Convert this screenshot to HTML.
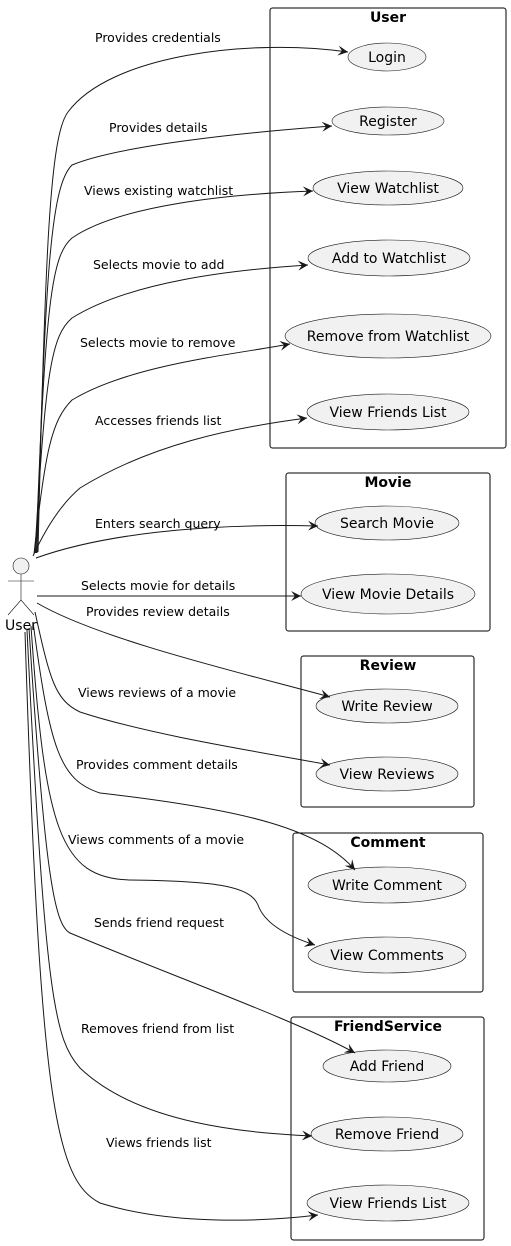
<!DOCTYPE html>
<html><head><meta charset="utf-8"><style>
html,body{margin:0;padding:0;background:#fff;}
svg{display:block;}
text{font-family:"DejaVu Sans","Liberation Sans",sans-serif;}
.l{font-size:12.5px;fill:#000;}
.u{font-size:14px;fill:#000;text-anchor:middle;}
.t{font-size:14px;font-weight:bold;text-anchor:middle;}
.e{fill:#f1f1f1;stroke:#181818;stroke-width:0.6;}
.b{fill:none;stroke:#000;stroke-width:1;}
.p{fill:none;stroke:#181818;stroke-width:1;marker-end:url(#a);}
</style></head><body>
<svg width="511" height="1246" viewBox="0 0 511 1246" xmlns="http://www.w3.org/2000/svg">
<defs><marker id="a" markerWidth="12" markerHeight="10" refX="10" refY="5" orient="auto" markerUnits="userSpaceOnUse"><path d="M0,0 L10,5 L0,10 L4,5 Z" fill="#181818"/></marker></defs>

<rect class="b" x="270" y="8" width="236" height="440" rx="2.5"/>
<text class="t" x="388" y="22">User</text>
<rect class="b" x="286" y="473" width="204" height="158" rx="2.5"/>
<text class="t" x="388" y="487">Movie</text>
<rect class="b" x="301" y="656" width="173" height="151" rx="2.5"/>
<text class="t" x="388" y="670">Review</text>
<rect class="b" x="293" y="833" width="190" height="159" rx="2.5"/>
<text class="t" x="388" y="847">Comment</text>
<rect class="b" x="291" y="1017" width="193" height="223" rx="2.5"/>
<text class="t" x="388" y="1031">FriendService</text>

<ellipse class="e" cx="387" cy="57" rx="39" ry="14"/><text class="u" x="387" y="62">Login</text>
<ellipse class="e" cx="388" cy="121" rx="56" ry="14"/><text class="u" x="388" y="126">Register</text>
<ellipse class="e" cx="388" cy="188" rx="75" ry="17"/><text class="u" x="388" y="193">View Watchlist</text>
<ellipse class="e" cx="389" cy="258" rx="81" ry="18"/><text class="u" x="389" y="263">Add to Watchlist</text>
<ellipse class="e" cx="388" cy="336" rx="103" ry="22"/><text class="u" x="388" y="341">Remove from Watchlist</text>
<ellipse class="e" cx="388" cy="412" rx="81" ry="18"/><text class="u" x="388" y="417">View Friends List</text>
<ellipse class="e" cx="387" cy="523" rx="72" ry="17"/><text class="u" x="387" y="528">Search Movie</text>
<ellipse class="e" cx="388" cy="594" rx="87" ry="20"/><text class="u" x="388" y="599">View Movie Details</text>
<ellipse class="e" cx="387" cy="706" rx="71" ry="17"/><text class="u" x="387" y="711">Write Review</text>
<ellipse class="e" cx="387" cy="774" rx="71" ry="17"/><text class="u" x="387" y="779">View Reviews</text>
<ellipse class="e" cx="387" cy="885" rx="79" ry="18"/><text class="u" x="387" y="890">Write Comment</text>
<ellipse class="e" cx="387" cy="955" rx="79" ry="18"/><text class="u" x="387" y="960">View Comments</text>
<ellipse class="e" cx="387" cy="1066" rx="64" ry="16"/><text class="u" x="387" y="1071">Add Friend</text>
<ellipse class="e" cx="387" cy="1134" rx="76" ry="17"/><text class="u" x="387" y="1139">Remove Friend</text>
<ellipse class="e" cx="388" cy="1203" rx="81" ry="18"/><text class="u" x="388" y="1208">View Friends List</text>

<!-- actor -->
<circle cx="21" cy="566" r="8" fill="#f1f1f1" stroke="#181818" stroke-width="0.6"/>
<path d="M21,574 L21,600 M8,581 L34,581 M8,615 L21,600 L34,615" fill="none" stroke="#181818" stroke-width="0.6"/>
<text class="u" x="21" y="630">User</text>

<!-- edges -->
<path class="p" d="M38,552 C45,250 50,135 68,112 C110,55 250,38 348,52"/>
<path class="p" d="M37,553 C45,260 52,185 72,165 C120,145 250,132 332,126"/>
<path class="p" d="M36,553 C45,300 52,255 72,238 C120,205 230,194 313,191"/>
<path class="p" d="M35,553 C45,370 52,335 72,318 C130,282 230,270 308,265"/>
<path class="p" d="M34,554 C45,450 52,420 72,400 C130,365 230,355 290,344"/>
<path class="p" d="M33,556 C45,530 60,505 80,488 C150,445 230,428 307,418"/>
<path class="p" d="M36,558 C100,535 200,523 318,526"/>
<path class="p" d="M37,596 L301,596"/>
<path class="p" d="M37,603 C100,640 250,675 330,697"/>
<path class="p" d="M35,612 C50,680 55,700 80,712 C150,735 260,752 330,765"/>
<path class="p" d="M33,622 C50,750 60,780 100,793 C250,810 320,830 355,870"/>
<path class="p" d="M31,626 C45,830 60,878 130,880 C210,881 250,885 258,905 C265,925 290,937 315,945"/>
<path class="p" d="M29,628 C45,880 55,925 70,933 C170,975 300,1022 355,1053"/>
<path class="p" d="M27,630 C45,1000 55,1040 80,1068 C140,1125 250,1133 312,1136"/>
<path class="p" d="M25,632 C40,1100 55,1180 100,1203 C170,1225 260,1222 318,1215"/>

<!-- labels -->
<text class="l" x="95" y="42">Provides credentials</text>
<text class="l" x="109" y="132">Provides details</text>
<text class="l" x="84" y="195">Views existing watchlist</text>
<text class="l" x="93" y="269">Selects movie to add</text>
<text class="l" x="80" y="347">Selects movie to remove</text>
<text class="l" x="95" y="425">Accesses friends list</text>
<text class="l" x="95" y="528">Enters search query</text>
<text class="l" x="81" y="590">Selects movie for details</text>
<text class="l" x="86" y="616">Provides review details</text>
<text class="l" x="78" y="697">Views reviews of a movie</text>
<text class="l" x="76" y="769">Provides comment details</text>
<text class="l" x="68" y="844">Views comments of a movie</text>
<text class="l" x="94" y="927">Sends friend request</text>
<text class="l" x="81" y="1033">Removes friend from list</text>
<text class="l" x="106" y="1147">Views friends list</text>
</svg>
</body></html>
